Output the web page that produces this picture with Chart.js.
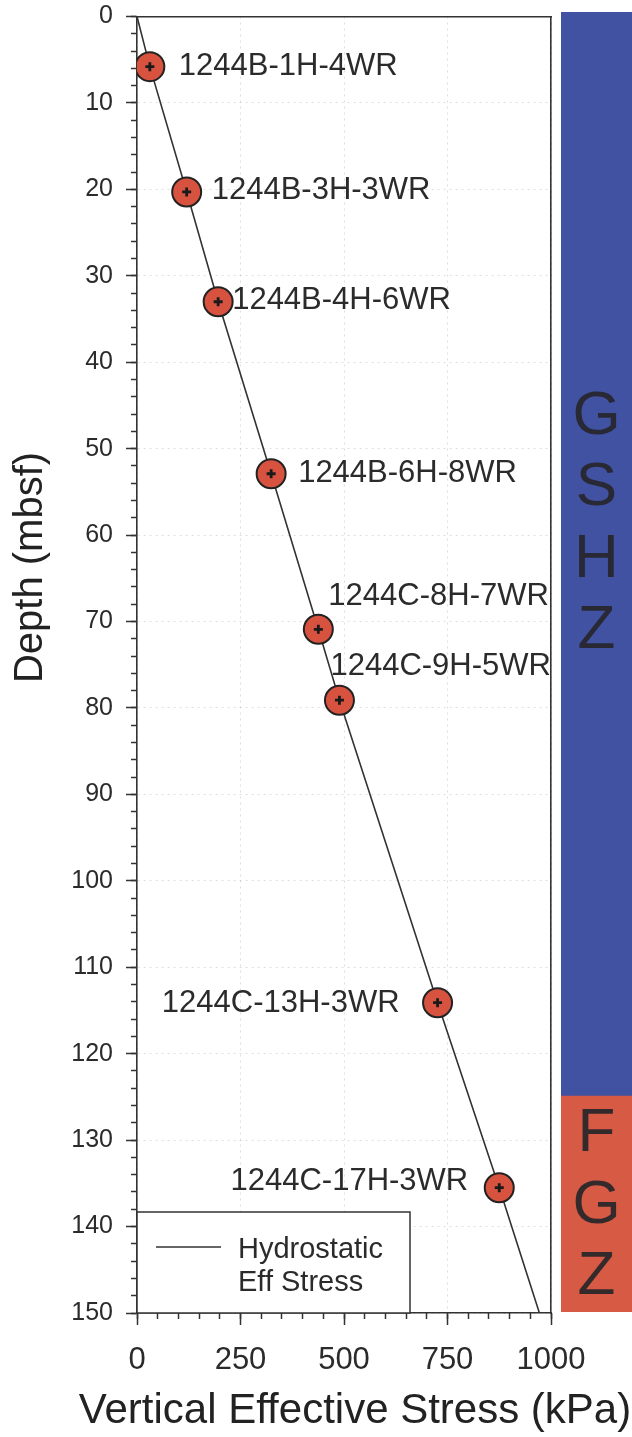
<!DOCTYPE html>
<html>
<head>
<meta charset="utf-8">
<script src="https://cdn.jsdelivr.net/npm/chart.js@4/dist/chart.umd.min.js"></script>
<style>
  html, body { margin: 0; padding: 0; background: #ffffff; }
  #wrap { position: relative; width: 632px; height: 1437px; }
  #main { position: absolute; left: 0; top: 0; }
  #zones { position: absolute; left: 561px; top: 12px; }
</style>
</head>
<body>
<div id="wrap">
  <canvas id="main" width="632" height="1437"></canvas>
  <canvas id="zones" width="71" height="1300"></canvas>
</div>
<script>
// ---- Whole-round samples, Site 1244 ----
const sampleIds = ['1244B-1H-4WR', '1244B-3H-3WR', '1244B-4H-6WR', '1244B-6H-8WR',
                   '1244C-8H-7WR', '1244C-9H-5WR', '1244C-13H-3WR', '1244C-17H-3WR'];
const sampleDepth = [5.8, 20.3, 33.0, 52.9, 70.9, 79.1, 114.1, 135.5];      // mbsf
const sampleStress = [31, 120, 196, 324, 438, 489, 726, 875];               // kPa

// ---- Hydrostatic vertical effective stress profile ----
const hydroDepth = [0, 5.8, 20.3, 33.0, 52.9, 70.9, 79.1, 114.1, 135.5, 150];
const hydroStress = [0, 31, 120, 196, 324, 438, 489, 726, 875, 972];
const hydroLabel = ['Hydrostatic', 'Eff Stress'];

// ---- Axis ranges and tick steps ----
const depthRange = [0, 150];
const stressRange = [0, 1000];
const depthMajorStep = 10;
const depthMinorStep = 2;
const stressMajorStep = 250;
const stressMinorStep = 50;

// ---- Hydrate zones ----
const zoneNames = ['GHSZ', 'FGZ'];
const zoneTop = [0, 125];
const zoneBase = [125, 150];
const zoneLetters = ['GSHZ', 'FGZ'];

// ---- Styling ----
const FONT = "'Liberation Sans', Arial, Helvetica, sans-serif";
const INK = '#2b2b2b';
const AXIS = '#333333';
const MARK_RED = '#d8533f';
const ZONE_COLORS = ['#4152a3', '#d65a44'];
const ZONE_LETTER_SHIFT = [-32, 0];   // vertical shift of each zone's letter column
const LETTER_GAP = 71.5;

// where each sample name sits relative to its marker
const labelPlace = [
  { dx: 29, dy: 0, align: 'left' },
  { dx: 25, dy: -2, align: 'left' },
  { dx: 14, dy: -1, align: 'left' },
  { dx: 27, dy: 0, align: 'left' },
  { dx: 10, dy: -33, align: 'left' },
  { dx: -9, dy: -34, align: 'left' },
  { dx: -38, dy: 1, align: 'right' },
  { dx: -31, dy: -6, align: 'right' }
];

const toXY = (xs, ys) => xs.map((v, i) => ({ x: v, y: ys[i] }));
const plainNumber = (v) => String(v);

// Sample names next to the markers
const sampleLabelPlugin = {
  id: 'sampleLabels',
  afterDatasetsDraw(chart) {
    const meta = chart.getDatasetMeta(1);
    const ctx = chart.ctx;
    ctx.save();
    ctx.font = `31px ${FONT}`;
    ctx.fillStyle = INK;
    ctx.textBaseline = 'middle';
    meta.data.forEach((pt, i) => {
      const p = labelPlace[i];
      ctx.textAlign = p.align;
      ctx.fillText(sampleIds[i], pt.x + p.dx, pt.y + p.dy);
    });
    ctx.restore();
  }
};

// Axis titles
const axisTitlePlugin = {
  id: 'axisTitles',
  afterDraw(chart) {
    const { ctx, chartArea: a } = chart;
    ctx.save();
    ctx.fillStyle = '#222';
    ctx.font = `42px ${FONT}`;
    ctx.textAlign = 'center';
    ctx.textBaseline = 'alphabetic';
    ctx.fillText('Vertical Effective Stress (kPa)', (a.left + a.right) / 2 + 11, a.bottom + 110);
    ctx.translate(a.left - 95, a.top + 551);
    ctx.rotate(-Math.PI / 2);
    ctx.font = `40px ${FONT}`;
    ctx.fillText('Depth (mbsf)', 0, 0);
    ctx.restore();
  }
};

// Legend box in the lower-left corner of the plot
const legendBoxPlugin = {
  id: 'legendBox',
  afterDatasetsDraw(chart) {
    const { ctx, chartArea: a } = chart;
    const ds = chart.data.datasets[0];
    const w = 273, h = 101;
    const x0 = a.left, y0 = a.bottom - h;
    ctx.save();
    ctx.fillStyle = '#ffffff';
    ctx.fillRect(x0, y0, w, h);
    ctx.strokeStyle = AXIS;
    ctx.lineWidth = 1.5;
    ctx.strokeRect(x0, y0, w, h);
    ctx.strokeStyle = ds.borderColor;
    ctx.lineWidth = ds.borderWidth;
    ctx.beginPath();
    ctx.moveTo(x0 + 19, y0 + 35);
    ctx.lineTo(x0 + 84, y0 + 35);
    ctx.stroke();
    ctx.fillStyle = INK;
    ctx.font = `29px ${FONT}`;
    ctx.textAlign = 'left';
    ctx.textBaseline = 'middle';
    hydroLabel.forEach((t, i) => ctx.fillText(t, x0 + 101, y0 + 38 + i * 33));
    ctx.restore();
  }
};

const sizeTo = (prop, val) => (s) => { s[prop] = val; s.paddingTop = 0; s.paddingBottom = 0; s.paddingLeft = 0; s.paddingRight = 0; };

new Chart(document.getElementById('main'), {
  type: 'scatter',
  data: {
    datasets: [
      {
        label: hydroLabel.join(' '),
        data: toXY(hydroStress, hydroDepth),
        showLine: true,
        borderColor: AXIS,
        borderWidth: 1.6,
        pointRadius: 0,
        fill: false,
        tension: 0,
        order: 3
      },
      {
        label: 'Samples',
        data: toXY(sampleStress, sampleDepth),
        pointStyle: 'circle',
        pointRadius: 14.5,
        pointBackgroundColor: MARK_RED,
        pointBorderColor: '#222',
        pointBorderWidth: 2,
        order: 2
      },
      {
        label: 'Sample centres',
        data: toXY(sampleStress, sampleDepth),
        pointStyle: 'cross',
        pointRadius: 4.5,
        pointBorderColor: '#1a1a1a',
        pointBorderWidth: 2.8,
        order: 1
      }
    ]
  },
  options: {
    responsive: false,
    devicePixelRatio: 1,
    animation: false,
    events: [],
    layout: { padding: { top: 15, right: 81, left: 0, bottom: 0 } },
    plugins: { legend: { display: false }, tooltip: { enabled: false } },
    scales: {
      x: {
        type: 'linear', position: 'bottom', weight: 1,
        min: stressRange[0], max: stressRange[1],
        ticks: { stepSize: stressMajorStep, callback: plainNumber, color: INK, font: { family: FONT, size: 31 }, padding: 17, maxRotation: 0, autoSkip: false },
        grid: { color: 'rgba(0,0,0,0.13)', lineWidth: 1, tickColor: AXIS, tickLength: 12, tickWidth: 1.5 },
        border: { color: AXIS, width: 1.6, dash: [2, 4] },
        afterFit: sizeTo('height', 124)
      },
      xMinor: {
        type: 'linear', position: 'bottom', weight: 0,
        min: stressRange[0], max: stressRange[1],
        ticks: { stepSize: stressMinorStep, display: false },
        grid: { drawOnChartArea: false, tickColor: AXIS, tickLength: 6, tickWidth: 1.5 },
        border: { display: false },
        afterFit: sizeTo('height', 0)
      },
      xTop: {
        type: 'linear', position: 'top',
        min: stressRange[0], max: stressRange[1],
        ticks: { display: false },
        grid: { display: false },
        border: { color: AXIS, width: 1.6 },
        afterFit: sizeTo('height', 0)
      },
      y: {
        type: 'linear', position: 'left', weight: 1, reverse: true,
        min: depthRange[0], max: depthRange[1],
        ticks: { stepSize: depthMajorStep, callback: plainNumber, color: INK, font: { family: FONT, size: 25 }, padding: 13, autoSkip: false },
        grid: { color: 'rgba(0,0,0,0.13)', lineWidth: 1, tickColor: AXIS, tickLength: 11, tickWidth: 1.5 },
        border: { color: AXIS, width: 1.6, dash: [2, 4] },
        afterFit: sizeTo('width', 137)
      },
      yMinor: {
        type: 'linear', position: 'left', weight: 0, reverse: true,
        min: depthRange[0], max: depthRange[1],
        ticks: { stepSize: depthMinorStep, display: false },
        grid: { drawOnChartArea: false, tickColor: AXIS, tickLength: 6, tickWidth: 1.5 },
        border: { display: false },
        afterFit: sizeTo('width', 0)
      },
      yRight: {
        type: 'linear', position: 'right', reverse: true,
        min: depthRange[0], max: depthRange[1],
        ticks: { display: false },
        grid: { display: false },
        border: { color: AXIS, width: 1.6 },
        afterFit: sizeTo('width', 0)
      }
    }
  },
  plugins: [legendBoxPlugin, sampleLabelPlugin, axisTitlePlugin]
});

// Zone column: stacked letters inside each coloured band
const zoneLetterPlugin = {
  id: 'zoneLetters',
  afterDatasetsDraw(chart) {
    const ctx = chart.ctx;
    ctx.save();
    ctx.font = `62px ${FONT}`;
    ctx.fillStyle = 'rgba(38,38,42,0.92)';
    ctx.textAlign = 'center';
    ctx.textBaseline = 'middle';
    chart.data.datasets.forEach((ds, d) => {
      const bar = chart.getDatasetMeta(d).data[0];
      const mid = (bar.y + bar.base) / 2 + ZONE_LETTER_SHIFT[d];
      const letters = zoneLetters[d].split('');
      const start = mid - (letters.length - 1) * LETTER_GAP / 2;
      letters.forEach((ch, k) => ctx.fillText(ch, bar.x, start + k * LETTER_GAP + 2));
    });
    ctx.restore();
  }
};

new Chart(document.getElementById('zones'), {
  type: 'bar',
  data: {
    labels: ['zone'],
    datasets: zoneNames.map((name, i) => ({
      label: name,
      data: [[zoneTop[i], zoneBase[i]]],
      backgroundColor: ZONE_COLORS[i],
      borderWidth: 0,
      barPercentage: 1,
      categoryPercentage: 1,
      grouped: false
    }))
  },
  options: {
    responsive: false,
    devicePixelRatio: 1,
    animation: false,
    events: [],
    layout: { padding: 0 },
    plugins: { legend: { display: false }, tooltip: { enabled: false } },
    scales: {
      x: { display: false },
      y: { display: false, reverse: true, min: depthRange[0], max: depthRange[1] }
    }
  },
  plugins: [zoneLetterPlugin]
});
</script>
</body>
</html>
